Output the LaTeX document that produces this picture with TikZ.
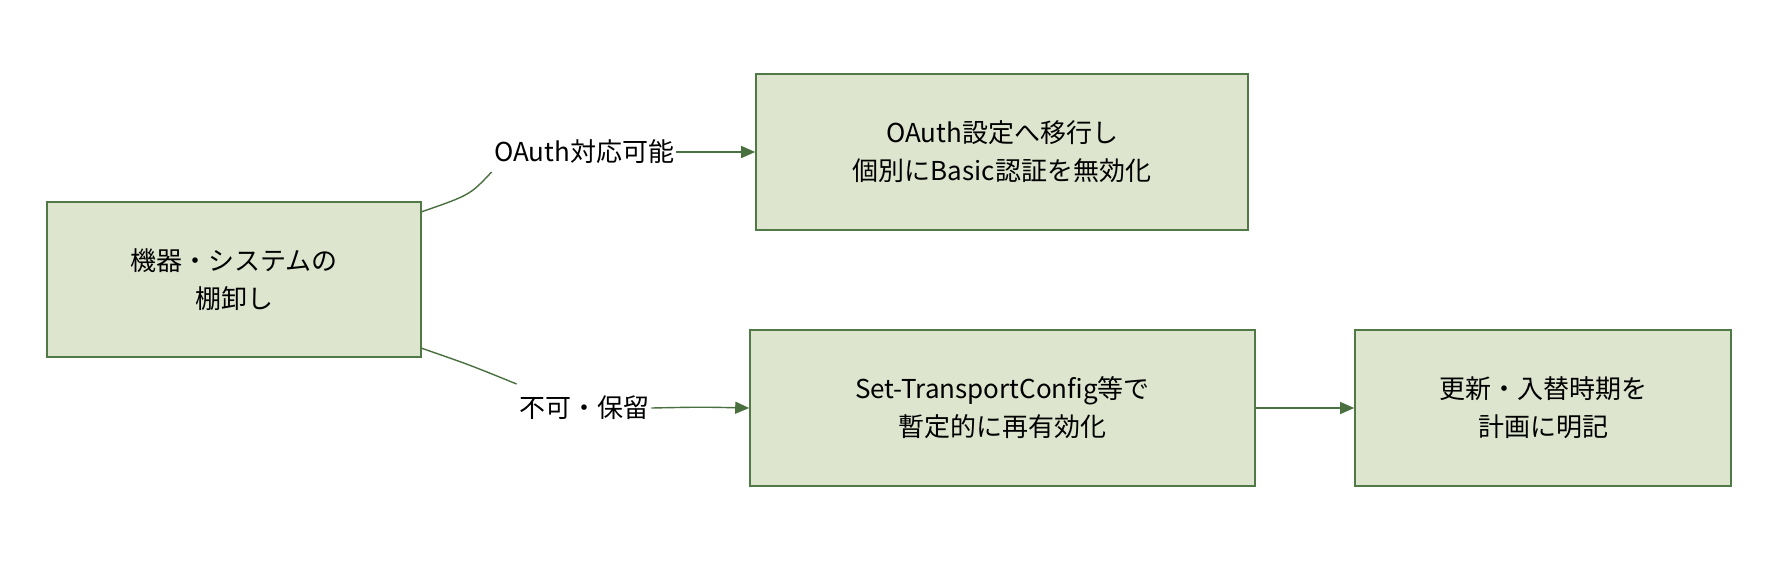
\documentclass[tikz,border=0pt]{standalone}
\usepackage{fontspec}
\setmainfont{Noto Sans CJK JP}
\usetikzlibrary{arrows.meta, positioning}
\definecolor{boxfill}{HTML}{DDE5CE}
\definecolor{boxline}{HTML}{4F7A45}
\definecolor{edgeline}{HTML}{4A7040}
\begin{document}
\begin{tikzpicture}[x=0.5pt, y=-0.5pt,
	box/.style={draw=boxline, fill=boxfill, line width=0.8pt, inner sep=0pt, align=center, font=\fontsize{13}{19}\selectfont},
	lbl/.style={fill=white, inner sep=1pt, font=\fontsize{13}{16}\selectfont},
	edge/.style={draw=edgeline, line width=0.7pt},
	arr/.style={edge, -{Triangle[length=7pt, width=6pt]}}]

\useasboundingbox (0,0) rectangle (1778,564);

% boxes
\node[box, minimum width=187pt, minimum height=77.5pt] (inv) at (234,279.5) {機器・システムの\\棚卸し};
\node[box, minimum width=246pt, minimum height=78pt] (oauth) at (1002,152) {OAuth設定へ移行し\\個別にBasic認証を無効化};
\node[box, minimum width=252.5pt, minimum height=78pt] (tmp) at (1002.5,408) {Set-TransportConfig等で\\暫定的に再有効化};
\node[box, minimum width=188pt, minimum height=78pt] (plan) at (1543,408) {更新・入替時期を\\計画に明記};

% labels
\node[lbl] (yes) at (584,152) {OAuth対応可能};
\node[lbl] (no) at (584,408) {不可・保留};

% connectors
\draw[edge] (421,212) .. controls (470,195) .. (yes.west |- 0,172) coordinate (y1);
\draw[arr] (yes.east) -- (oauth.west);
\draw[edge] (421,348) .. controls (470,365) .. (no.west |- 0,384) coordinate (n1);
\draw[arr] (no.east) .. controls (700,407) .. (tmp.west);
\draw[arr] (tmp.east) -- (plan.west);

\end{tikzpicture}
\end{document}
